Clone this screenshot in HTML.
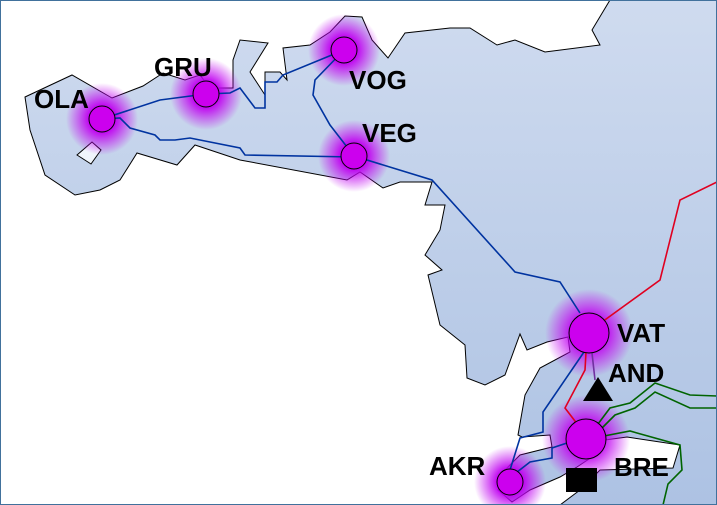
<!DOCTYPE html>
<html><head><meta charset="utf-8"><style>
html,body{margin:0;padding:0;background:#fff}
svg{display:block}
text{font-family:"Liberation Sans",sans-serif;font-weight:bold;font-size:26px;fill:#000}
</style></head><body>
<svg width="717" height="505" viewBox="0 0 717 505" xmlns="http://www.w3.org/2000/svg">
<defs>
<linearGradient id="g" x1="0" y1="0" x2="0" y2="1">
<stop offset="0" stop-color="#cfdbef"/><stop offset="1" stop-color="#adc2e3"/>
</linearGradient>
<radialGradient id="glow">
<stop offset="0.35" stop-color="#c000f0" stop-opacity="1"/>
<stop offset="0.6" stop-color="#c000f0" stop-opacity="0.6"/>
<stop offset="1" stop-color="#c000f0" stop-opacity="0"/>
</radialGradient>
</defs>
<rect width="717" height="505" fill="#fff"/>
<path fill="url(#g)" stroke="#000" stroke-width="1" d="M25,97 L72,75 L112,98 L143,86 L163,73 L185,80 L200,75 L210,88 L233,88 L233,60 L240,40 L268,43 L250,72 L265,95 L265,72 L280,72 L287,80 L283,48 L310,45 L330,32 L345,16 L362,17 L372,40 L388,58 L405,33 L450,28 L470,28 L497,45 L515,40 L545,52 L600,45 L592,30 L610,0 L717,0 L717,505 L560,505 L580,490 L600,470 L673,468 L680,445 L627,437 L605,440 L595,455 L577,467 L560,477 L530,490 L512,502 L498,490 L505,470 L520,455 L552,447 L550,435 L522,437 L518,435 L525,395 L540,368 L570,352 L568,337 L547,342 L527,350 L520,334 L505,375 L485,385 L467,378 L465,345 L440,325 L428,275 L442,270 L425,255 L440,230 L445,205 L425,205 L432,182 L400,182 L383,188 L360,172 L347,180 L240,160 L195,145 L177,165 L137,153 L120,180 L100,190 L75,195 L45,175 L30,130 Z"/>
<path fill="#f0f5fc" stroke="#000" d="M77,155 L92,142 L101,150 L91,164 Z"/>
<g fill="url(#glow)">
<circle cx="102" cy="119" r="36"/><circle cx="206" cy="94" r="36"/><circle cx="344" cy="50" r="36"/>
<circle cx="354" cy="156" r="36"/><circle cx="589" cy="333" r="44"/><circle cx="586" cy="439" r="44"/><circle cx="510" cy="482" r="36"/>
</g>
<g fill="none" stroke-width="1.6">
<path stroke="#0033a0" d="M102,119 L160,100 L206,94"/>
<path stroke="#0033a0" d="M102,119 L120,118 L130,128 L155,135 L160,140 L175,140 L190,138 L240,148 L245,155 L354,157"/>
<path stroke="#0033a0" d="M206,94 L230,93 L240,88 L255,108 L265,108 L265,82 L277,82 L283,75 L344,50"/>
<path stroke="#0033a0" d="M344,50 L315,80 L313,95 L330,125 L354,156"/>
<path stroke="#0033a0" d="M354,156 L432,180 L515,272 L560,282 L580,313"/>
<path stroke="#0033a0" d="M584,352 L543,412 L543,432 L520,438 L510,470"/>
<path stroke="#0033a0" d="M570,442 L552,448 L552,458 L530,462 L512,476"/>
<path stroke="#e00020" d="M602,322 L660,280 L680,200 L717,182"/>
<path stroke="#e00020" d="M586,352 L585,370 L565,408 L578,425"/>
<path stroke="#7030a0" d="M592,353 L595,380"/>
<path stroke="#006400" d="M598,424 L610,408 L630,403 L655,383 L690,395 L717,396"/>
<path stroke="#006400" d="M602,428 L615,415 L635,408 L655,392 L690,408 L717,408"/>
<path stroke="#006400" d="M604,436 L630,431 L680,445 L682,470 L668,484 L663,505"/>
</g>
<g fill="#cc00ee" stroke="#000" stroke-width="1">
<circle cx="102" cy="119" r="13"/><circle cx="206" cy="94" r="13"/><circle cx="344" cy="50" r="13"/>
<circle cx="354" cy="156" r="13"/><circle cx="589" cy="333" r="20"/><circle cx="586" cy="439" r="20"/><circle cx="510" cy="482" r="13"/>
</g>
<path d="M598,377 L613,401 L583,401 Z" fill="#000"/>
<rect x="566" y="468" width="31" height="24" fill="#000"/>
<text x="34" y="108">OLA</text>
<text x="154" y="76">GRU</text>
<text x="349" y="89">VOG</text>
<text x="362" y="142">VEG</text>
<text x="617" y="342">VAT</text>
<text x="608" y="382">AND</text>
<text x="614" y="476">BRE</text>
<text x="429" y="475">AKR</text>
<rect x="0.5" y="0.5" width="716" height="504" fill="none" stroke="#41719c" stroke-width="1"/>
</svg>
</body></html>
